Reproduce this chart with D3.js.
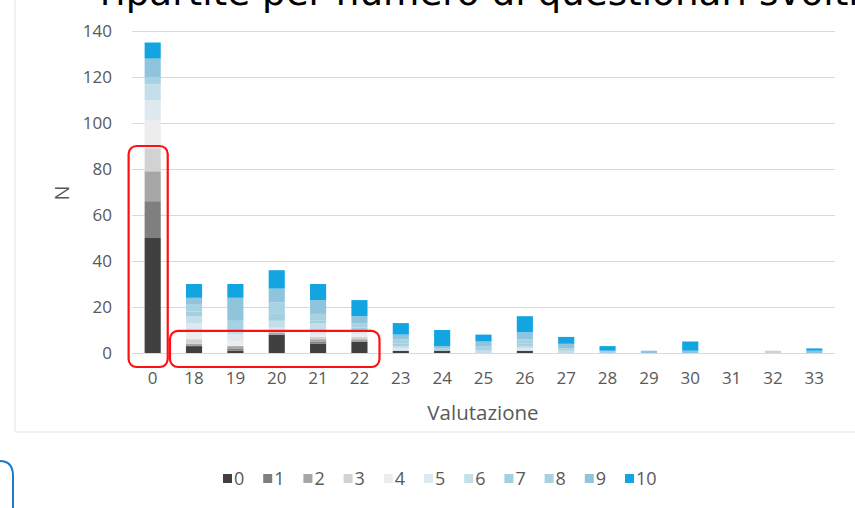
<!DOCTYPE html>
<html>
<head>
<meta charset="utf-8">
<script src="https://cdn.jsdelivr.net/npm/d3@7"></script>
<style>
  html, body { margin: 0; padding: 0; background: #ffffff; }
  svg { display: block; }
</style>
</head>
<body>
<svg id="chart" width="855" height="508"></svg>
<script>
// Valutazione (x categories)
const categories = ["0","18","19","20","21","22","23","24","25","26","27","28","29","30","31","32","33"];
// Stack series: numero di questionari svolti (0..10)
const seriesKeys = ["0","1","2","3","4","5","6","7","8","9","10"];
const seriesColors = ["#404040","#7f7f7f","#a6a6a6","#d2d2d2","#ededed","#dee9ef","#c4dfea","#a3d0de","#a8d2e3","#8fc4dc","#12a5e2"];

// counts per category, one array per series
const q0  = [50, 3, 1, 8, 4, 5, 1, 1, 0, 1, 0, 0, 0, 0, 0, 0, 0];
const q1  = [16, 0, 1, 0, 1, 0, 0, 0, 0, 0, 0, 0, 0, 0, 0, 0, 0];
const q2  = [13, 1, 1, 1, 1, 1, 0, 0, 0, 0, 0, 0, 0, 0, 0, 0, 0];
const q3  = [10, 2, 0, 0, 1, 1, 0, 0, 0, 0, 0, 0, 0, 0, 0, 1, 0];
const q4  = [12, 3, 2, 0, 1, 1, 0, 0, 0, 0, 0, 0, 0, 0, 0, 0, 0];
const q5  = [ 9, 4, 3, 2, 2, 1, 1, 0, 0, 1, 0, 0, 0, 0, 0, 0, 0];
const q6  = [ 7, 3, 2, 3, 3, 1, 1, 0, 1, 1, 1, 0, 0, 0, 0, 0, 0];
const q7  = [ 0, 2, 0, 3, 1, 1, 1, 1, 0, 1, 0, 0, 0, 0, 0, 0, 0];
const q8  = [ 3, 3, 4, 5, 3, 2, 2, 0, 2, 2, 1, 1, 0, 0, 0, 0, 0];
const q9  = [ 8, 3,10, 6, 6, 3, 2, 1, 2, 3, 2, 0, 1, 1, 0, 0, 1];
const q10 = [ 7, 6, 6, 8, 7, 7, 5, 7, 3, 7, 3, 2, 0, 4, 0, 0, 1];
const seriesValues = [q0,q1,q2,q3,q4,q5,q6,q7,q8,q9,q10];

const yTicks = [0, 20, 40, 60, 80, 100, 120, 140];

const rows = categories.map((c, i) => {
  const r = { cat: c };
  seriesKeys.forEach((k, j) => { r[k] = seriesValues[j][i]; });
  return r;
});

const svg = d3.select("#chart");
const textFont = "'Open Sans', 'Liberation Sans', sans-serif";
const textColor = "#595959";

const plotLeft = 132, plotRight = 835, plotTop = 31, plotBottom = 353;

const x = d3.scaleBand().domain(categories).range([plotLeft, plotRight]).paddingInner(0.61).paddingOuter(0.305);
const y = d3.scaleLinear().domain([0, 140]).range([plotBottom, plotTop]);

// chart frame
svg.append("path")
  .attr("d", `M15,-2 L15,432 L860,432`)
  .attr("fill", "none").attr("stroke", "#e3e3e3").attr("stroke-width", 1);

// slide title (partly outside the view)
svg.append("text")
  .attr("x", 100).attr("y", 5)
  .attr("font-family", "'DejaVu Sans', sans-serif")
  .attr("font-size", 37.3)
  .attr("fill", "#000")
  .text("ripartite per numero di questionari svolti");

// gridlines
svg.append("g").selectAll("line").data(yTicks).join("line")
  .attr("x1", plotLeft).attr("x2", plotRight)
  .attr("y1", d => Math.round(y(d)) + 0.5).attr("y2", d => Math.round(y(d)) + 0.5)
  .attr("stroke", "#d9d9d9").attr("stroke-width", 1);

// y axis labels
const yAxis = d3.axisLeft(y).tickValues(yTicks).tickSize(0).tickPadding(0);
svg.append("g").attr("transform", `translate(112,0)`).call(yAxis)
  .call(g => g.select(".domain").remove())
  .call(g => g.selectAll("text").attr("font-family", textFont).attr("font-size", 17).attr("fill", textColor));

// x axis labels
const xAxis = d3.axisBottom(x).tickSize(0).tickPadding(0);
svg.append("g").attr("transform", `translate(0,372)`).call(xAxis)
  .call(g => g.select(".domain").remove())
  .call(g => g.selectAll("text").attr("font-family", textFont).attr("font-size", 17).attr("fill", textColor));

// axis titles
svg.append("text")
  .attr("transform", `translate(69,193) rotate(-90)`)
  .attr("text-anchor", "middle")
  .attr("font-family", textFont).attr("font-size", 20).attr("fill", textColor)
  .text("N");
svg.append("text")
  .attr("x", 483).attr("y", 420)
  .attr("text-anchor", "middle")
  .attr("font-family", textFont).attr("font-size", 20.5).attr("fill", textColor)
  .text("Valutazione");

// stacked bars
const stack = d3.stack().keys(seriesKeys)(rows);
const color = d3.scaleOrdinal().domain(seriesKeys).range(seriesColors);
svg.append("g").selectAll("g").data(stack).join("g")
  .attr("fill", d => color(d.key))
  .selectAll("rect").data(d => d).join("rect")
  .attr("x", d => x(d.data.cat))
  .attr("width", x.bandwidth())
  .attr("y", d => y(d[1]))
  .attr("height", d => y(d[0]) - y(d[1]));

// legend
const legend = svg.append("g").selectAll("g").data(seriesKeys).join("g")
  .attr("transform", (d, i) => `translate(${223 + i * 40.2},474)`);
legend.append("rect").attr("width", 9).attr("height", 9).attr("fill", d => color(d));
legend.append("text")
  .attr("x", 11).attr("y", 4.5).attr("dy", "0.36em")
  .attr("font-family", textFont).attr("font-size", 18).attr("fill", textColor)
  .text(d => d);

// highlight boxes
const bw = x.bandwidth();
svg.append("rect")
  .attr("x", x("0") - 16).attr("y", y(90))
  .attr("width", bw + 23).attr("height", 367 - y(90))
  .attr("rx", 8).attr("fill", "none").attr("stroke", "#ff1010").attr("stroke-width", 2.2);
svg.append("rect")
  .attr("x", x("18") - 16).attr("y", y(9.6))
  .attr("width", x("22") + bw + 12 - (x("18") - 16)).attr("height", 367 - y(9.6))
  .attr("rx", 8).attr("fill", "none").attr("stroke", "#ff1010").attr("stroke-width", 2.2);

// edge of a neighbouring slide shape
svg.append("path")
  .attr("d", "M-20,461 L0,461 Q13,461 13,476 L13,515")
  .attr("fill", "none").attr("stroke", "#1f78c8").attr("stroke-width", 2);
</script>
</body>
</html>
